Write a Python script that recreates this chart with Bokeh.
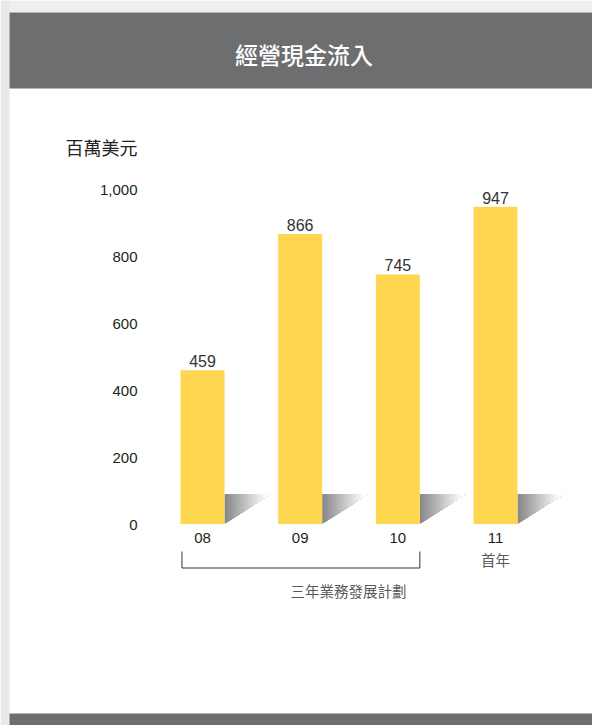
from bokeh.plotting import figure
from bokeh.models import Range1d
from bokeh.core.properties import value
from bokeh.embed import file_html
from bokeh.resources import INLINE

# ---- data ----
title = "經營現金流入"
unit_label = "百萬美元"
years = ["08", "09", "10", "11"]
cash_inflow = [459, 866, 745, 947]
y_ticks = [0, 200, 400, 600, 800, 1000]
y_tick_labels = ["0", "200", "400", "600", "800", "1,000"]
first_year_note = "首年"
plan_label = "三年業務發展計劃"
plan_years = ["08", "09", "10"]

# ---- styles ----
BAR = "#ffd64f"
HEAD = "#6d6e70"
DARK = "#231f20"
MID = "#58595b"
CJK = value("Noto Sans CJK TC")
CJK_MED = value("Noto Sans CJK TC Medium, Noto Sans CJK TC")
SANS = value("Liberation Sans")

BAR_W = 0.4505
idx = list(range(len(years)))

W, H = 592, 725
p = figure(width=W, height=H, output_backend="svg", toolbar_location=None,
           x_range=Range1d(-2.0683, 3.9931), y_range=Range1d(-601.5, 1562.7),
           x_axis_location=None, y_axis_location=None, min_border=0,
           outline_line_color=None, background_fill_color="white",
           border_fill_color="white")
p.grid.visible = False
p.extra_x_ranges = {"px": Range1d(0, W)}
p.extra_y_ranges = {"px": Range1d(H, 0)}

# page frame / header / footer bands
p.quad(left=[0], right=[W], top=[0], bottom=[12], x_range_name="px", y_range_name="px",
       fill_color="#eeeeee", line_color=None)
p.quad(left=[0], right=[9], top=[0], bottom=[H], x_range_name="px", y_range_name="px",
       fill_color="#e9e9e9", line_color=None)
p.quad(left=[9], right=[W], top=[12], bottom=[88], x_range_name="px", y_range_name="px",
       fill_color=HEAD, line_color=None)
p.quad(left=[9], right=[W], top=[713], bottom=[H], x_range_name="px", y_range_name="px",
       fill_color=HEAD, line_color=None)
p.text(x=[303.5], y=[53], text=[title], x_range_name="px", y_range_name="px",
       text_color="white", text_font=CJK_MED, text_font_size="23px", text_font_style="normal",
       text_align="center", text_baseline="middle")

# shadows (gradient triangles), layered from dark to light
SH_W = 0.471
SH_H = 89.5
N = 30
xs, ys, cols = [], [], []
for i in idx:
    x0 = i + BAR_W / 2
    for j in range(N):
        t0 = j / N
        g = int(round(136 + 119 * min(1.0, t0 / 0.9)))
        xs.append([x0 + t0 * SH_W, x0 + SH_W, x0 + t0 * SH_W])
        ys.append([SH_H, SH_H, SH_H * t0])
        cols.append("#%02x%02x%02x" % (g, g, g))
p.patches(xs=xs, ys=ys, fill_color=cols, line_color=None)

# bars
p.vbar(x=idx, top=cash_inflow, bottom=0, width=BAR_W, fill_color=BAR, line_color=None)

# value labels
p.text(x=idx, y=cash_inflow, text=[str(v) for v in cash_inflow], y_offset=-9,
       text_align="center", text_baseline="alphabetic", text_font=SANS,
       text_font_size="16px", text_color="#333333")

# y tick labels
p.text(x=[137] * len(y_ticks), y=y_ticks, text=y_tick_labels, x_range_name="px",
       y_offset=1, text_align="right", text_baseline="middle", text_font=SANS,
       text_font_size="15px", text_color=DARK)
p.text(x=[65], y=[146], text=[unit_label], x_range_name="px", y_range_name="px",
       text_align="left", text_baseline="middle", text_font=CJK,
       text_font_size="18px", text_color=DARK)

# category labels
p.text(x=idx, y=[537] * len(idx), text=years, y_range_name="px",
       text_align="center", text_baseline="middle", text_font=SANS,
       text_font_size="15px", text_color=DARK)
p.text(x=[idx[-1]], y=[559], text=[first_year_note], y_range_name="px",
       text_align="center", text_baseline="middle", text_font=CJK,
       text_font_size="14.5px", text_color=MID)

# bracket for plan years
bl = -BAR_W / 2 + 0.015
br = len(plan_years) - 1 + BAR_W / 2
p.line(x=[bl, bl, br, br], y=[551, 567.5, 567.5, 551], y_range_name="px",
       line_color="#333333", line_width=1)
p.text(x=[348], y=[590], text=[plan_label], x_range_name="px", y_range_name="px",
       text_align="center", text_baseline="middle", text_font=CJK,
       text_font_size="14.5px", text_color=MID)

open("out.html", "w").write(file_html(p, INLINE))
